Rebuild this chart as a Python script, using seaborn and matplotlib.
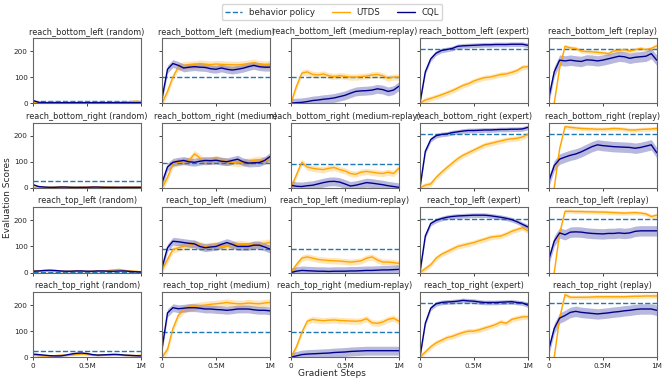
import numpy as np
import seaborn as sns
import matplotlib.pyplot as plt

ENVS = ['reach_bottom_left', 'reach_bottom_right', 'reach_top_left', 'reach_top_right']
DATASETS = ['random', 'medium', 'medium-replay', 'expert', 'replay']

# gradient steps (in millions)
steps_m = [0, 0.05, 0.1, 0.15, 0.2, 0.25, 0.3, 0.35, 0.4, 0.45, 0.5,
           0.55, 0.6, 0.65, 0.7, 0.75, 0.8, 0.85, 0.9, 0.95, 1.0]

# behavior policy score per env (rows) and dataset (cols)
behavior_bottom_left = [8, 100, 100, 208, 208]
behavior_bottom_right = [27, 95, 93, 208, 207]
behavior_top_left = [2, 91, 91, 205, 205]
behavior_top_right = [23, 97, 97, 207, 207]

# ---- random ----
utds_bl_random = [3, 3, 2, 3, 3, 2, 3, 3, 2, 3, 3, 2, 3, 3, 2, 3, 3, 4, 5, 8, 5]
cql_bl_random = [10, 3, 2, 2, 2, 2, 2, 2, 2, 2, 2, 2, 2, 2, 2, 2, 2, 2, 2, 2, 2]
utds_br_random = [2, 3, 3, 2, 3, 4, 3, 3, 2, 3, 3, 4, 3, 4, 3, 3, 2, 3, 3, 3, 3]
cql_br_random = [12, 5, 3, 2, 2, 3, 3, 2, 2, 2, 2, 3, 3, 2, 2, 2, 2, 2, 2, 2, 2]
utds_tl_random = [8, 6, 5, 4, 6, 5, 4, 5, 6, 5, 4, 5, 6, 5, 8, 10, 12, 8, 6, 5, 3]
cql_tl_random = [5, 6, 8, 9, 8, 6, 5, 5, 6, 6, 5, 5, 6, 6, 5, 5, 6, 6, 4, 3, 2]
utds_tr_random = [8, 6, 5, 5, 6, 8, 7, 8, 10, 12, 10, 8, 8, 10, 8, 9, 10, 8, 7, 6, 8]
cql_tr_random = [12, 10, 8, 6, 5, 5, 8, 12, 15, 16, 14, 10, 8, 9, 10, 11, 10, 8, 7, 6, 5]

# ---- medium ----
utds_bl_medium = [0, 45, 100, 138, 145, 147, 148, 152, 150, 148, 150, 149, 148, 147, 147, 149, 152, 155, 150, 148, 150]
cql_bl_medium = [20, 130, 152, 145, 135, 138, 140, 138, 137, 132, 130, 135, 130, 127, 130, 134, 140, 145, 140, 138, 138]
utds_br_medium = [0, 40, 92, 98, 100, 105, 130, 115, 100, 105, 110, 105, 100, 98, 95, 97, 100, 105, 108, 105, 110]
cql_br_medium = [20, 80, 98, 102, 105, 100, 98, 102, 105, 104, 106, 102, 100, 105, 110, 100, 95, 96, 97, 105, 120]
utds_tl_medium = [10, 50, 88, 95, 100, 105, 110, 105, 100, 102, 105, 100, 100, 105, 110, 108, 105, 108, 110, 112, 115]
cql_tl_medium = [20, 95, 120, 118, 115, 112, 110, 100, 95, 98, 100, 108, 115, 108, 100, 100, 100, 105, 105, 98, 90]
utds_tr_medium = [0, 30, 110, 160, 182, 192, 195, 198, 200, 203, 205, 207, 210, 207, 205, 205, 208, 206, 205, 208, 210]
cql_tr_medium = [35, 170, 190, 186, 188, 190, 190, 188, 185, 185, 183, 182, 180, 182, 185, 185, 185, 182, 180, 180, 178]

# ---- medium-replay ----
utds_bl_mreplay = [0, 65, 115, 120, 110, 108, 112, 105, 102, 105, 103, 100, 100, 102, 104, 108, 110, 105, 95, 100, 100]
cql_bl_mreplay = [0, 2, 3, 6, 10, 12, 15, 17, 20, 25, 30, 38, 45, 47, 48, 50, 55, 52, 45, 50, 65]
utds_br_mreplay = [0, 50, 98, 80, 75, 72, 70, 75, 78, 70, 65, 55, 52, 60, 63, 60, 57, 55, 60, 55, 75]
cql_br_mreplay = [10, 6, 5, 8, 10, 15, 20, 24, 25, 22, 15, 7, 10, 15, 20, 18, 15, 12, 8, 5, 2]
utds_tl_mreplay = [0, 30, 55, 60, 55, 50, 48, 46, 45, 44, 42, 40, 42, 45, 55, 60, 48, 40, 40, 38, 35]
cql_tl_mreplay = [0, 5, 8, 7, 6, 5, 5, 4, 5, 5, 5, 6, 6, 7, 8, 8, 9, 10, 10, 11, 12]
utds_tr_mreplay = [0, 40, 95, 138, 145, 142, 140, 142, 143, 141, 140, 139, 138, 140, 148, 132, 130, 135, 145, 150, 138]
cql_tr_mreplay = [0, 5, 10, 12, 13, 14, 15, 16, 18, 19, 20, 22, 23, 24, 25, 25, 25, 25, 25, 25, 25]

# ---- expert ----
utds_bl_expert = [0, 12, 18, 25, 32, 40, 48, 58, 68, 75, 85, 92, 98, 100, 105, 110, 112, 118, 125, 138, 140]
cql_bl_expert = [0, 120, 170, 192, 202, 206, 210, 218, 220, 221, 222, 223, 224, 224, 225, 225, 225, 226, 226, 226, 222]
utds_br_expert = [0, 10, 15, 40, 60, 78, 95, 112, 125, 135, 145, 155, 165, 170, 175, 180, 185, 188, 190, 195, 205]
cql_br_expert = [0, 140, 185, 200, 205, 207, 212, 215, 218, 220, 220, 221, 222, 222, 223, 224, 224, 225, 225, 226, 232]
utds_tl_expert = [0, 15, 30, 55, 70, 80, 90, 100, 105, 110, 115, 122, 128, 135, 138, 140, 148, 158, 165, 172, 160]
cql_tl_expert = [0, 140, 188, 200, 207, 212, 215, 217, 218, 219, 220, 220, 220, 218, 215, 212, 208, 203, 195, 185, 175]
utds_tr_expert = [0, 20, 40, 55, 65, 75, 80, 88, 95, 100, 100, 105, 112, 118, 125, 135, 130, 145, 150, 155, 155]
cql_tr_expert = [0, 130, 188, 205, 210, 212, 213, 215, 218, 216, 215, 212, 210, 210, 210, 211, 212, 213, 210, 208, 200]

# ---- replay ----
utds_bl_replay = [-80, 0, 135, 218, 212, 210, 200, 198, 197, 195, 193, 190, 200, 203, 205, 200, 205, 210, 205, 210, 220]
cql_bl_replay = [20, 120, 165, 162, 165, 162, 160, 166, 165, 162, 165, 170, 175, 180, 178, 172, 176, 178, 180, 190, 165]
utds_br_replay = [-80, 0, 150, 235, 232, 230, 228, 227, 226, 225, 225, 226, 228, 227, 225, 222, 222, 224, 225, 226, 228]
cql_br_replay = [25, 85, 110, 118, 125, 130, 138, 148, 158, 165, 162, 160, 158, 157, 156, 155, 152, 155, 160, 165, 135]
utds_tl_replay = [-80, 0, 150, 235, 235, 234, 234, 233, 233, 232, 232, 231, 230, 229, 228, 229, 230, 228, 225, 215, 220]
cql_tl_replay = [50, 120, 152, 145, 155, 156, 155, 152, 150, 149, 148, 150, 150, 152, 150, 152, 158, 160, 160, 160, 160]
utds_tr_replay = [-80, 0, 150, 240, 230, 230, 230, 230, 231, 232, 232, 232, 232, 232, 232, 233, 234, 234, 235, 235, 235]
cql_tr_replay = [30, 110, 150, 160, 172, 176, 172, 170, 168, 166, 168, 170, 173, 175, 178, 180, 183, 185, 185, 185, 180]

# shaded band half widths per dataset (random, medium, medium-replay, expert, replay)
utds_band = [3, 14, 12, 10, 8]
cql_band = [3, 15, 17, 9, 20]

UTDS = [
    [utds_bl_random, utds_bl_medium, utds_bl_mreplay, utds_bl_expert, utds_bl_replay],
    [utds_br_random, utds_br_medium, utds_br_mreplay, utds_br_expert, utds_br_replay],
    [utds_tl_random, utds_tl_medium, utds_tl_mreplay, utds_tl_expert, utds_tl_replay],
    [utds_tr_random, utds_tr_medium, utds_tr_mreplay, utds_tr_expert, utds_tr_replay],
]
CQL = [
    [cql_bl_random, cql_bl_medium, cql_bl_mreplay, cql_bl_expert, cql_bl_replay],
    [cql_br_random, cql_br_medium, cql_br_mreplay, cql_br_expert, cql_br_replay],
    [cql_tl_random, cql_tl_medium, cql_tl_mreplay, cql_tl_expert, cql_tl_replay],
    [cql_tr_random, cql_tr_medium, cql_tr_mreplay, cql_tr_expert, cql_tr_replay],
]
BEHAVIOR = [behavior_bottom_left, behavior_bottom_right, behavior_top_left, behavior_top_right]

UTDS_COLOR = 'orange'
CQL_COLOR = 'darkblue'
BEHAVIOR_COLOR = 'tab:blue'


def plot_curve(ax, steps, vals, band, color):
    vals = np.array(vals, dtype=float)
    sns.lineplot(x=steps, y=vals, ax=ax, color=color, linewidth=1.0,
                 legend=False)
    ax.fill_between(steps, vals - band, vals + band, color=color,
                    alpha=0.28, linewidth=0)


def main():
    sns.set_style('ticks')
    plt.rcParams['font.family'] = ['DejaVu Sans']

    steps = np.array(steps_m) * 1e6
    fig, axes = plt.subplots(4, 5, figsize=(6.64, 3.8), dpi=100,
                             sharex=True, sharey=True)
    fig.subplots_adjust(left=0.05, right=0.989, top=0.9, bottom=0.06,
                        wspace=0.195, hspace=0.30)

    for i, env in enumerate(ENVS):
        for j, ds in enumerate(DATASETS):
            ax = axes[i, j]
            ax.axhline(BEHAVIOR[i][j], color=BEHAVIOR_COLOR, linestyle='--',
                       linewidth=1.0)
            plot_curve(ax, steps, UTDS[i][j], utds_band[j], UTDS_COLOR)
            plot_curve(ax, steps, CQL[i][j], cql_band[j], CQL_COLOR)
            ax.set_title(f'{env} ({ds})', fontsize=5.9, pad=3)
            ax.set_xlim(0, 1e6)
            ax.set_ylim(0, 250)
            ax.set_xticks([0, 5e5, 1e6])
            ax.set_xticklabels(['0', '0.5M', '1M'])
            ax.set_yticks([0, 100, 200])
            ax.tick_params(labelsize=5.2, length=2.5, width=0.6, pad=1.5)
            ax.set_xlabel('')
            ax.set_ylabel('')
            for sp in ax.spines.values():
                sp.set_linewidth(0.8)
                sp.set_color('#666666')

    handles = [
        plt.Line2D([], [], color=BEHAVIOR_COLOR, linestyle='--', linewidth=1.0),
        plt.Line2D([], [], color=UTDS_COLOR, linewidth=1.0),
        plt.Line2D([], [], color=CQL_COLOR, linewidth=1.0),
    ]
    fig.legend(handles, ['behavior policy', 'UTDS', 'CQL'], loc='upper center',
               bbox_to_anchor=(0.5, 1.0), ncol=3, fontsize=6.2, frameon=True,
               handlelength=2.0, columnspacing=2.0, borderpad=0.4)
    fig.text(0.5, 0.005, 'Gradient Steps', ha='center', va='bottom', fontsize=6.5)
    fig.text(0.004, 0.48, 'Evaluation Scores', ha='left', va='center',
             rotation=90, fontsize=6.5)

    plt.savefig('out.png', dpi=100)
    plt.close()


main()
